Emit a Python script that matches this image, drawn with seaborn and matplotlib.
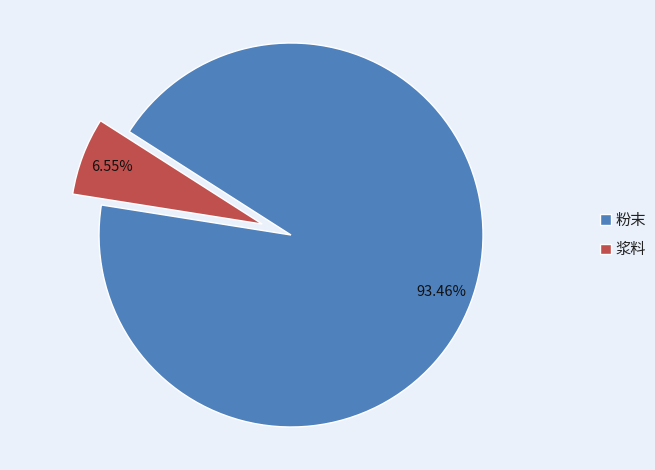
import matplotlib
matplotlib.use("Agg")
import matplotlib.pyplot as plt
import seaborn as sns

# data
categories = ["粉末", "浆料"]
values = [93.46, 6.55]
pct_labels = ["93.46%", "6.55%"]
colors = ["#4F81BD", "#C0504D"]
explode = [0, 0.16]

sns.set_theme(style="white")
plt.rcParams['font.family'] = ['Noto Sans CJK SC', 'DejaVu Sans']

bg = "#EAF1FB"
fig = plt.figure(figsize=(6.55, 4.70), dpi=100, facecolor=bg)
ax = fig.add_axes([0, 0, 1, 1])
ax.set_facecolor(bg)

label_iter = iter(pct_labels)
wedges, texts, autotexts = ax.pie(
    values, colors=colors, explode=explode, startangle=171,
    counterclock=True, normalize=True,
    autopct=lambda p: next(label_iter), pctdistance=0.84,
    wedgeprops=dict(edgecolor="white", linewidth=1.0),
    textprops=dict(fontsize=10.5, color="#111111"),
)
for w in wedges:
    w.set_clip_on(False)

# map the unit circle to pixel layout (radius ~192 px, centre at 291,235)
r = 192.0
ax.set_xlim(-291 / r, (655 - 291) / r)
ax.set_ylim(-(470 - 235) / r, 235 / r)
ax.set_aspect("auto")
ax.axis("off")

leg = fig.legend(wedges, categories, loc="center left",
                 bbox_to_anchor=(0.895, 0.50), frameon=False,
                 fontsize=11, labelspacing=0.85, handlelength=0.7,
                 handleheight=0.7, handletextpad=0.3)
for t in leg.get_texts():
    t.set_color("#222222")

fig.savefig("out.png", dpi=100, facecolor=bg)
